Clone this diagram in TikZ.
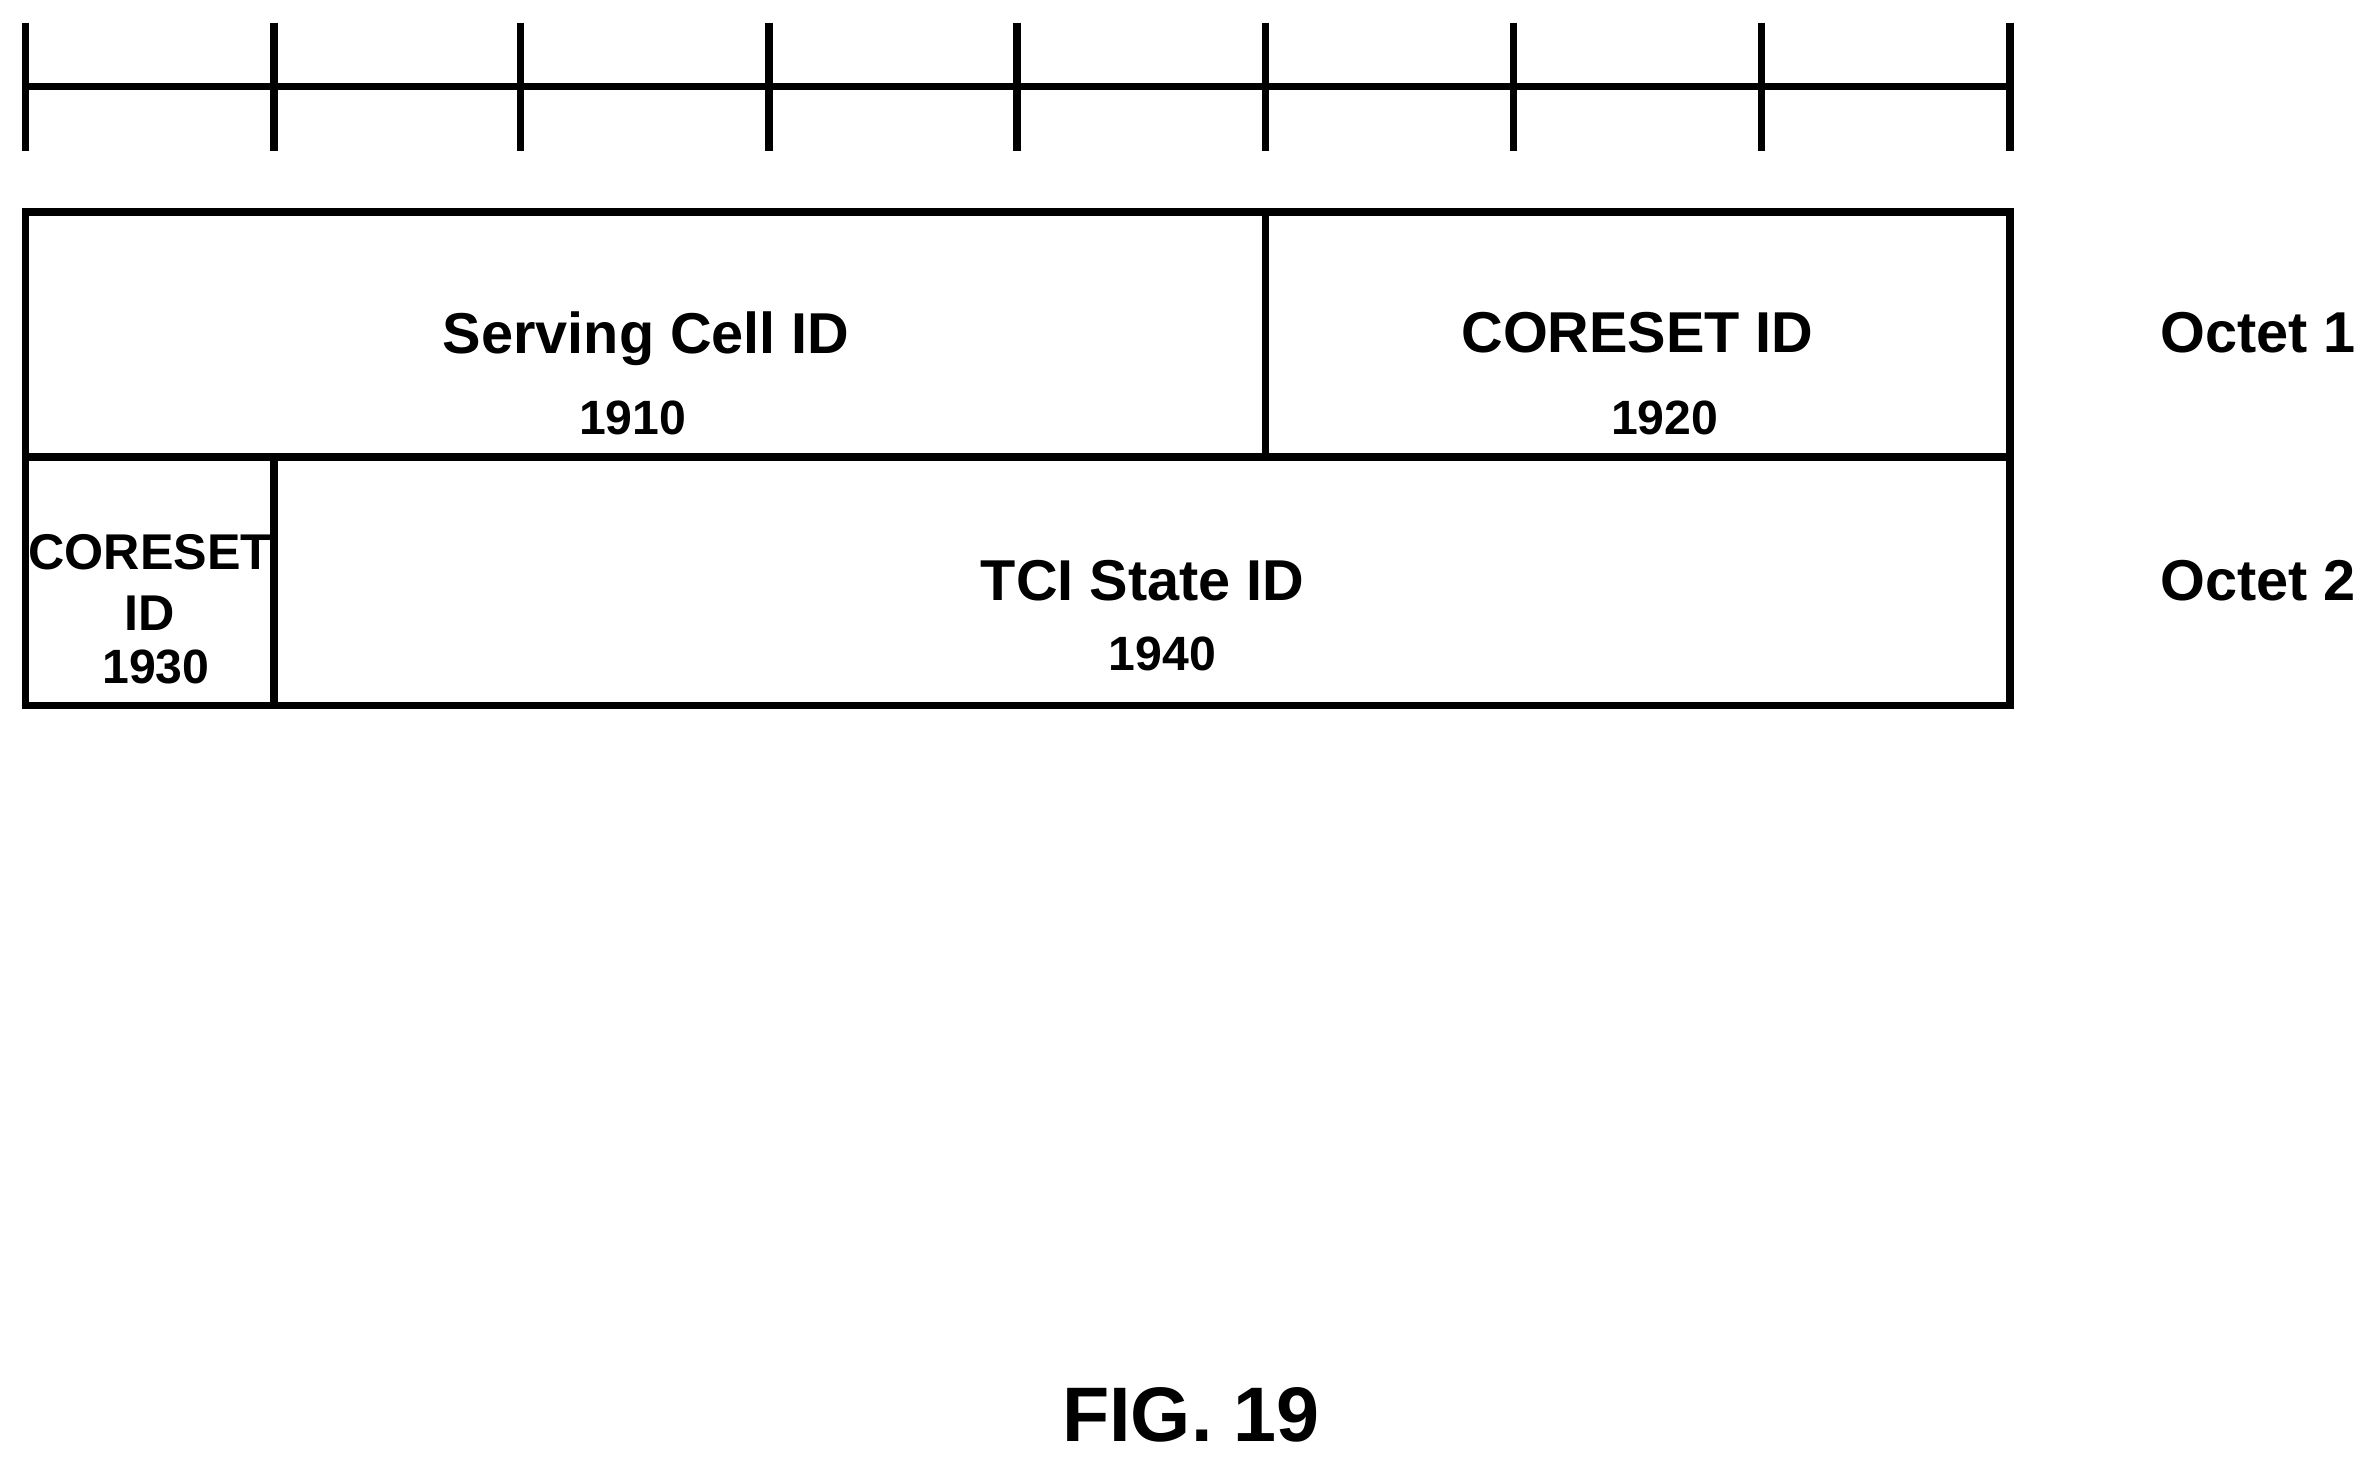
\documentclass[tikz,border=0pt]{standalone}
\usepackage{fontspec}
\setmainfont{Liberation Sans}
\begin{document}
\begin{tikzpicture}[x=0.015134cm,y=-0.015134cm,
  ln/.style={line width=2.1pt},
  big/.style={font=\bfseries\fontsize{16.4}{19}\selectfont},
  sm/.style={font=\bfseries\fontsize{14.3}{17}\selectfont},
  num/.style={font=\bfseries\fontsize{13.7}{16}\selectfont}]
\useasboundingbox (0,0) rectangle (1568,967);
\draw[ln] (17,57) -- (1328,57);
\foreach \x in {17,181,344,508,672,836,1000,1164,1328}
  \draw[ln] (\x,15) -- (\x,100);
\draw[ln] (17,140) rectangle (1328,466);
\draw[ln] (17,302) -- (1328,302);
\draw[ln] (836,140) -- (836,302);
\draw[ln] (181,302) -- (181,466);
\node[big] (sc) at (427,224) {Serving Cell ID};
\node[num] (n1) at (418,276) {1910};
\node[big] (cs) at (1082,220) {CORESET ID};
\node[num] (n2) at (1100,276) {1920};
\node[big] (o1) at (1492,220) {Octet 1};
\node[big] (o2) at (1492,384) {Octet 2};
\node[sm] (c3a) at (99,365) {CORESET};
\node[sm] (c3b) at (99,405) {ID};
\node[num] (n3) at (103,441) {1930};
\node[big] (tci) at (755,384) {TCI State ID};
\node[num] (n4) at (768,432) {1940};
\node[font=\bfseries\fontsize{22}{26}\selectfont] (fig) at (787,935) {FIG. 19};
\end{tikzpicture}
\end{document}
